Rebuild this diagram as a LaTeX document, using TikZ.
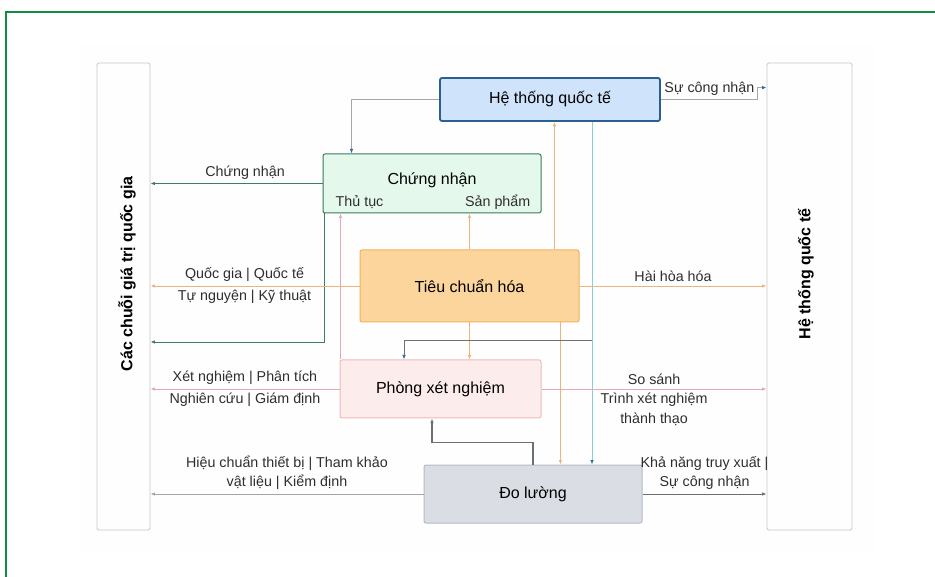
\documentclass[tikz,border=0pt]{standalone}
\usepackage{fontspec}
\setmainfont{Liberation Sans}
\newfontfamily\sidefont{Liberation Sans}
\usepackage{tikz}
\usetikzlibrary{arrows.meta,positioning}
\usepackage{xcolor}

\definecolor{frameGreen}{HTML}{138A43}
\definecolor{blueFill}{HTML}{CFE3FB}
\definecolor{blueEdge}{HTML}{2C5F8F}
\definecolor{greenFill}{HTML}{E5F8EC}
\definecolor{greenEdge}{HTML}{3C7A5E}
\definecolor{orangeFill}{HTML}{FCD59C}
\definecolor{orangeEdge}{HTML}{F2B25D}
\definecolor{pinkFill}{HTML}{FDECEC}
\definecolor{pinkEdge}{HTML}{F1B9B9}
\definecolor{grayFill}{HTML}{DADEE4}
\definecolor{grayEdge}{HTML}{B5BBC4}
\definecolor{cnLine}{HTML}{3D7D62}
\definecolor{stdLine}{HTML}{EAB57A}
\definecolor{labLine}{HTML}{E7A9B0}
\definecolor{measLine}{HTML}{A3A7AD}
\definecolor{darkLine}{HTML}{6A7078}
\definecolor{tealLine}{HTML}{8CCFD0}
\definecolor{tipBlue}{HTML}{2F6AA8}

\begin{document}
\begin{tikzpicture}[
  x=1pt,y=-1pt,
  font=\fontsize{14.3}{19}\selectfont,
  box/.style={draw,rounded corners=2pt,align=center,inner sep=2pt,line width=1pt,font=\fontsize{16}{19}\selectfont},
  side/.style={draw=black!22,rounded corners=1.5pt,line width=0.8pt,minimum width=#1,minimum height=467pt},
  arr/.style={-{Latex[length=4.5pt,width=3.5pt]},line width=0.9pt},
  bluetip/.style={-{Latex[length=4.5pt,width=3.5pt,color=tipBlue]}},
  lbl/.style={inner xsep=1.5pt,inner ysep=4pt,align=center,text=black!82}
]
\useasboundingbox (0,0) rectangle (935,577);
% outer frame and panel
\fill[black!0.5] (80,45) rectangle (874,552);
\draw[frameGreen,line width=2.5pt] (6,590) -- (6,12) -- (950,12);

% side columns
\node[side=53pt] (lside) at (123.5,296.5) {};
\node[side=85pt] (rside) at (809.5,296.5) {};
\node[rotate=90,font=\sidefont\bfseries\fontsize{16}{18}\selectfont] (ltext) at (127,274) {Các chuỗi giá trị quốc gia};
\node[rotate=90,font=\sidefont\bfseries\fontsize{16}{18}\selectfont] (rtext) at (806,274) {Hệ thống quốc tế};

% main boxes
\node[box,fill=blueFill,draw=blueEdge,line width=1.8pt,minimum width=220pt,minimum height=43pt] (htqt) at (550,99.5) {Hệ thống quốc tế};
\node[box,fill=greenFill,draw=greenEdge,minimum width=218pt,minimum height=59pt,text depth=9pt] (cn) at (432,183.5) {Chứng nhận};
\node[lbl,anchor=base west,inner sep=0pt] (thutuc) at ([xshift=13pt,yshift=7pt]cn.south west) {Thủ tục};
\node[lbl,anchor=base east,inner sep=0pt] (sanpham) at ([xshift=-11pt,yshift=7pt]cn.south east) {Sản phẩm};
\node[box,fill=orangeFill,draw=orangeEdge,minimum width=219pt,minimum height=72pt] (tch) at (469.5,286) {Tiêu chuẩn hóa};
\node[box,fill=pinkFill,draw=pinkEdge,minimum width=201pt,minimum height=58pt] (pxn) at (440.5,389) {Phòng xét nghiệm};
\node[box,fill=grayFill,draw=grayEdge,minimum width=218pt,minimum height=58pt] (dl) at (533,494) {Đo lường};

% international system
\draw[arr,draw=measLine,bluetip] (htqt.east) -- node[lbl,above]{Sự công nhận} ++(97,0) |- ([yshift=-25pt]rside.north west);
\draw[arr,draw=measLine,bluetip] (htqt.west) -| ([xshift=29pt]cn.north west);

% certification
\draw[arr,cnLine] (cn.west) -- node[lbl,above,pos=0.45]{Chứng nhận} (cn.west -| lside.east);
\draw[arr,cnLine] ([xshift=2pt]cn.south west) |- (lside.east |- 0,342);

% standardization
\draw[arr,stdLine] (tch.west) -- node[lbl,above,pos=0.55]{Quốc gia | Quốc tế} node[lbl,below,pos=0.55]{Tự nguyện | Kỹ thuật} (tch.west -| lside.east);
\draw[arr,stdLine] (tch.north) -- (tch.north |- cn.south);
\draw[arr,stdLine] ([xshift=85pt]tch.north) -- ([xshift=85pt]tch.north |- htqt.south);
\draw[arr,stdLine] (tch.east) -- node[lbl,above]{Hài hòa hóa} (tch.east -| rside.west);
\draw[arr,stdLine] (tch.south) -- (tch.south |- pxn.north);
\draw[arr,stdLine] ([xshift=91pt]tch.south) -- ([xshift=91pt]tch.south |- dl.north);

% traceability line
\draw[arr,tealLine,bluetip] ([xshift=42pt]htqt.south) -- ([xshift=42pt]htqt.south |- dl.north);
\draw[arr,darkLine,bluetip] ([xshift=42pt]htqt.south |- 0,340) -| ([xshift=-36.5pt]pxn.north);

% laboratory
\draw[arr,labLine] ([xshift=1pt]pxn.north west) -- ([xshift=1pt]pxn.north west |- cn.south);
\draw[arr,labLine] (pxn.west) -- node[lbl,above]{Xét nghiệm | Phân tích} node[lbl,below]{Nghiên cứu | Giám định} (pxn.west -| lside.east);
\draw[arr,labLine] (pxn.east) -- node[lbl,above]{So sánh} node[lbl,below,font=\fontsize{14.3}{20}\selectfont]{Trình xét nghiệm\\thành thạo} (pxn.east -| rside.west);

% metrology
\draw[arr,darkLine,line width=1.5pt] (dl.north) -- ++(0,-22) -| ([xshift=-8.5pt]pxn.south);
\draw[arr,measLine] (dl.west) -- node[lbl,above]{Hiệu chuẩn thiết bị | Tham khảo\\vật liệu | Kiểm định} (dl.west -| lside.east);
\draw[arr,darkLine] (dl.east) -- node[lbl,above]{Khả năng truy xuất |\\Sự công nhận} (dl.east -| rside.west);
\end{tikzpicture}
\end{document}
